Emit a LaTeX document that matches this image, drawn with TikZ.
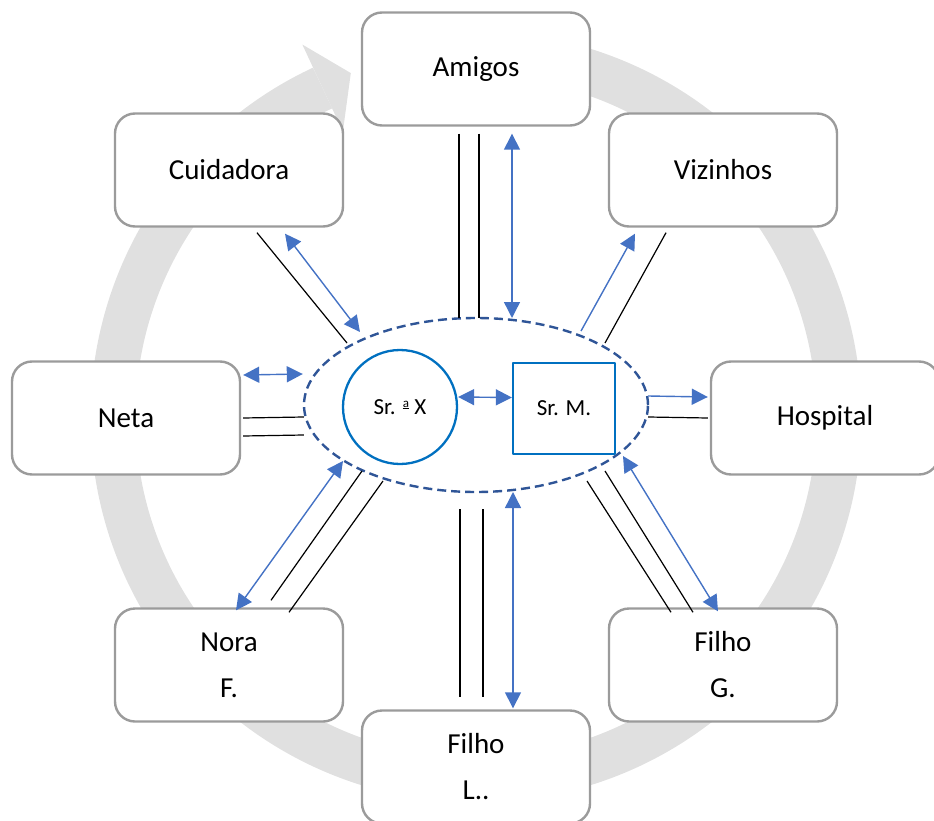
\documentclass[tikz,border=0pt]{standalone}
\usepackage{fontspec}
\setmainfont{Carlito}
\usetikzlibrary{arrows.meta,shapes.geometric,calc}
\definecolor{cinzaanel}{RGB}{224,224,224}
\definecolor{cinzacaixa}{RGB}{155,155,155}
\definecolor{azulescuro}{RGB}{47,85,151}
\definecolor{azulforte}{RGB}{0,112,192}
\definecolor{azulseta}{RGB}{68,114,196}
\newcommand{\ordinala}{\raisebox{5pt}{\shortstack{\fontsize{13}{13}\selectfont a\\[-2.5pt]\rule{6.5pt}{0.9pt}}}}
\begin{document}
\begin{tikzpicture}[x=1pt,y=-1pt,line join=round,
	caixa/.style={draw=cinzacaixa,line width=2.4pt,fill=white,rounded corners=20pt,minimum width=228,minimum height=113,inner sep=0pt,align=center,font=\fontsize{29}{46}\selectfont},
	liga/.style={black,line width=1.2pt},
	seta/.style={azulseta,line width=1.4pt,-{Triangle[length=16pt,width=16pt]}},
	setas/.style={seta,{Triangle[length=16pt,width=16pt]}-{Triangle[length=16pt,width=16pt]}},
	pessoa/.style={draw=azulforte,line width=2.3pt,font=\fontsize{23}{28}\selectfont,inner sep=0pt}]
	\useasboundingbox (0,0) rectangle (934,821);
	\clip (0,0) rectangle (934,821);
	\coordinate (centro) at (476,417);
	\draw[cinzaanel,line width=45] ($(centro)+(-95:363)$) arc[start angle=-95,end angle=245,radius=363];
	\fill[cinzaanel] ($(centro)+(245:411)$) -- ($(centro)+(250:366)$) -- ($(centro)+(245:315)$) -- cycle;
	\node[caixa] (amigos) at (476,69) {Amigos};
	\node[caixa] (cuidadora) at (229,170) {Cuidadora};
	\node[caixa] (vizinhos) at (723,170) {Vizinhos};
	\node[caixa] (neta) at (126,418) {Neta};
	\node[caixa] (hospital) at (825,418) {Hospital};
	\node[caixa] (nora) at (229,665) {Nora\\F.};
	\node[caixa] (filhog) at (723,665) {Filho\\G.};
	\node[caixa] (filhol) at (476,767) {Filho\\L..};
	\node[ellipse,draw=azulescuro,line width=2.4pt,dash pattern=on 9pt off 5pt,minimum width=344,minimum height=174] (grupo) at (476,405) {};
	\node[pessoa,circle,minimum size=114] (srax) at (400,407) {Sr. \ordinala{} X};
	\node[pessoa,minimum width=102,minimum height=91] (srm) at (564,408.5) {Sr. M.};
	\draw[setas] ([shift={(0,-10)}]srax.east) -- ([shift={(0,-11)}]srm.west);
	\draw[liga] ([shift={(-17,7)}]amigos.south) -- ([shift={(-17,-87)}]grupo.center);
	\draw[liga] ([shift={(3,7)}]amigos.south) -- ([shift={(3,-87)}]grupo.center);
	\draw[setas] ([shift={(36,7)}]amigos.south) -- ([shift={(36,-87)}]grupo.center);
	\draw[liga] ([shift={(-16,104)}]grupo.center) -- ([shift={(-16,-12)}]filhol.north);
	\draw[liga] ([shift={(7,104)}]grupo.center) -- ([shift={(7,-12)}]filhol.north);
	\draw[setas] ([shift={(37,87)}]grupo.center) -- ([shift={(37,-1)}]filhol.north);
	\draw[liga] ([shift={(28,5)}]cuidadora.south) -- ([shift={(-129,-62)}]grupo.center);
	\draw[setas] ([shift={(56,6)}]cuidadora.south) -- ([shift={(-116,-73)}]grupo.center);
	\draw[seta] ([shift={(105,-74)}]grupo.center) -- ([shift={(-88,6)}]vizinhos.south);
	\draw[liga] ([shift={(129,-62)}]grupo.center) -- ([shift={(-57,5)}]vizinhos.south);
	\draw[setas] ([shift={(2,-43)}]neta.east) -- ([shift={(0,-31)}]grupo.west);
	\draw[liga] ([shift={(2,0)}]neta.east) -- ([shift={(1,12)}]grupo.west);
	\draw[liga] ([shift={(2,18)}]neta.east) -- ([shift={(1,30)}]grupo.west);
	\draw[seta] ([shift={(-1,-9)}]grupo.east) -- ([shift={(-2,-21)}]hospital.west);
	\draw[liga] ([shift={(-1,12)}]grupo.east) -- ([shift={(-2,0)}]hospital.west);
	\draw[setas] ([shift={(7,3)}]nora.north) -- ([shift={(-133,56)}]grupo.center);
	\draw[liga] ([shift={(42,-7)}]nora.north) -- ([shift={(-114,66)}]grupo.center);
	\draw[liga] ([shift={(60,5)}]nora.north) -- ([shift={(-93,76)}]grupo.center);
	\draw[setas] ([shift={(147,51)}]grupo.center) -- ([shift={(-5,4)}]filhog.north);
	\draw[liga] ([shift={(111,76)}]grupo.center) -- ([shift={(-52,5)}]filhog.north);
	\draw[liga] ([shift={(129,66)}]grupo.center) -- ([shift={(-30,5)}]filhog.north);
\end{tikzpicture}
\end{document}
